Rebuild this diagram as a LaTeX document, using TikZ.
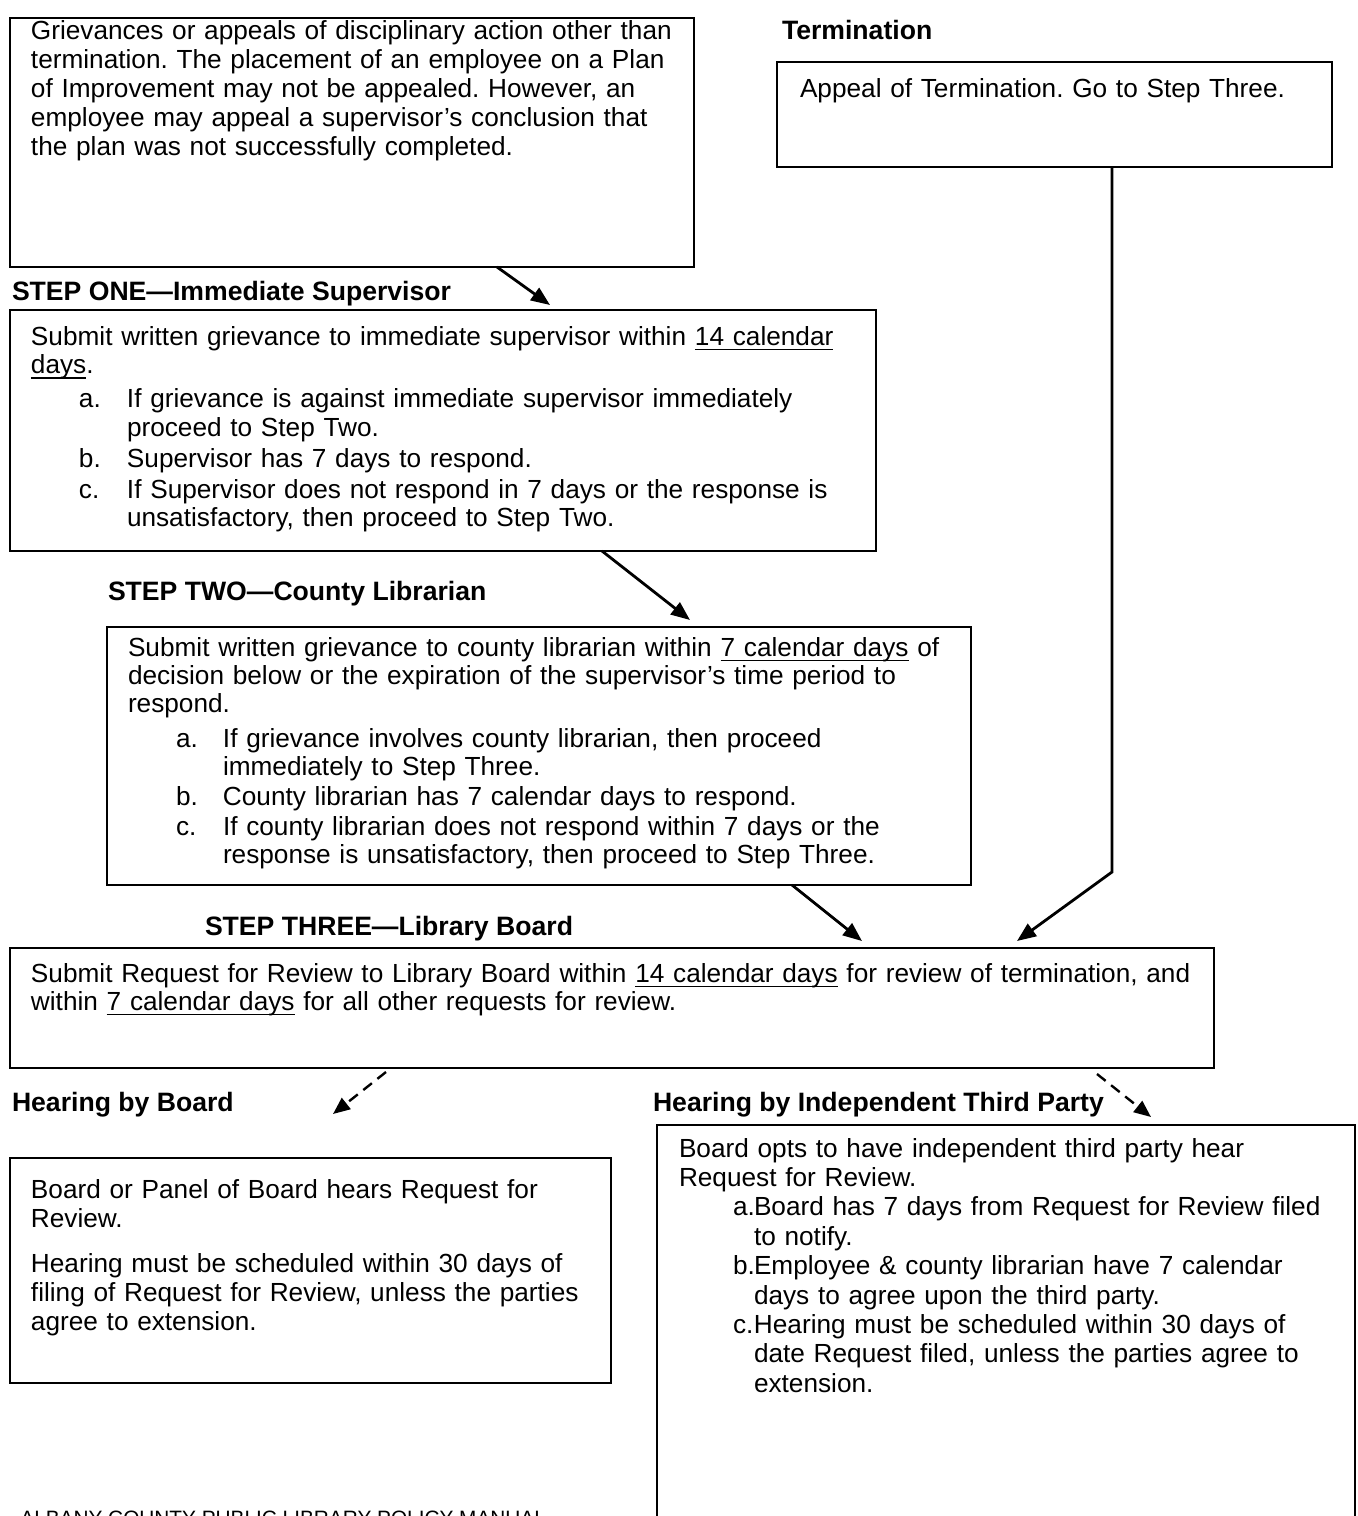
\documentclass[tikz,border=0pt]{standalone}
\usepackage{fontspec}
\setmainfont{Liberation Sans}
\usetikzlibrary{arrows.meta,calc}
\newsavebox\ulbox
\newcommand\myul[1]{\leavevmode\sbox\ulbox{#1}\rlap{\rule[-2.6pt]{\wd\ulbox}{0.65pt}}\usebox\ulbox}
\begin{document}
\frenchspacing
\begin{tikzpicture}[x=0.5pt,y=-0.5pt,
  box/.style={draw, line width=0.8pt, inner sep=0pt, outer sep=0pt, anchor=north west},
  txt/.style={anchor=base west, inner sep=0pt, outer sep=0pt, align=left, text width=#1},
  head/.style={anchor=base west, inner sep=0pt, outer sep=0pt, font=\fontsize{13.3}{15}\selectfont\bfseries},
  flow/.style={line width=1.4pt, -{Triangle[length=9.5pt,width=7.5pt]}},
  opt/.style={line width=1.2pt, dash pattern=on 5.5pt off 3.5pt, -{Triangle[length=8.5pt,width=7pt]}},
]
\useasboundingbox (0,0) rectangle (1358,1516);
\clip (0,0) rectangle (1358,1516);

% boxes
\node[box, minimum width=342pt, minimum height=124.5pt] (b1) at (10,18) {};
\node[box, minimum width=277.5pt, minimum height=52.5pt] (b2) at (777,62) {};
\node[box, minimum width=433pt, minimum height=120.5pt] (b3) at (10,310) {};
\node[box, minimum width=432pt, minimum height=129pt] (b4) at (107,627) {};
\node[box, minimum width=602pt, minimum height=60pt] (b5) at (10,948) {};
\node[box, minimum width=300.5pt, minimum height=112.5pt] (b6) at (10,1158) {};
\node[box, minimum width=349pt, minimum height=210pt] (b7) at (657,1125) {};

% headings
\node[head] (h0) at (782,39) {Termination};
\node[head] (h1) at (12,300) {STEP ONE—Immediate Supervisor};
\node[head] (h2) at (108,600) {STEP TWO—County Librarian};
\node[head] (h3) at (205,935) {STEP THREE—Library Board};
\node[head] (h4) at (12,1111) {Hearing by Board};
\node[head] (h5) at (653,1111) {Hearing by Independent Third Party};

% box texts
\node[txt=360pt, font=\fontsize{13.1}{14.5}\selectfont] (t1) at (31,39) {Grievances or appeals of disciplinary action other than\\
termination. The placement of an employee on a Plan\\
of Improvement may not be appealed. However, an\\
employee may appeal a supervisor’s conclusion that\\
the plan was not successfully completed.};

\node[txt=270pt, font=\fontsize{13.1}{14.5}\selectfont] (t2) at (800,97) {Appeal of Termination. Go to Step Three.};

\node[txt=440pt, font=\fontsize{13.1}{14.25}\selectfont] (t3) at (31,345) {Submit written grievance to immediate supervisor within \myul{14 calendar}\\
\myul{days}.\\[2.75pt]
\hspace*{24pt}\makebox[24pt][l]{a.}If grievance is against immediate supervisor immediately\\
\hspace*{48pt}proceed to Step Two.\\[1.25pt]
\hspace*{24pt}\makebox[24pt][l]{b.}Supervisor has 7 days to respond.\\[1.25pt]
\hspace*{24pt}\makebox[24pt][l]{c.}If Supervisor does not respond in 7 days or the response is\\
\hspace*{48pt}unsatisfactory, then proceed to Step Two.};

\node[txt=440pt, font=\fontsize{13.1}{14}\selectfont] (t4) at (128,656) {Submit written grievance to county librarian within \myul{7 calendar days} of\\
decision below or the expiration of the supervisor’s time period to\\
respond.\\[3.5pt]
\hspace*{24pt}\makebox[23.5pt][l]{a.}If grievance involves county librarian, then proceed\\
\hspace*{47.5pt}immediately to Step Three.\\[1pt]
\hspace*{24pt}\makebox[23.5pt][l]{b.}County librarian has 7 calendar days to respond.\\[1pt]
\hspace*{24pt}\makebox[23.5pt][l]{c.}If county librarian does not respond within 7 days or the\\
\hspace*{47.5pt}response is unsatisfactory, then proceed to Step Three.};

\node[txt=620pt, font=\fontsize{13.1}{14}\selectfont] (t5) at (31,982) {Submit Request for Review to Library Board within \myul{14 calendar days} for review of termination, and\\
within \myul{7 calendar days} for all other requests for review.};

\node[txt=310pt, font=\fontsize{13.1}{14.5}\selectfont] (t6) at (31,1198) {Board or Panel of Board hears Request for\\
Review.\\[8pt]
Hearing must be scheduled within 30 days of\\
filing of Request for Review, unless the parties\\
agree to extension.};

\node[txt=345pt, font=\fontsize{13.1}{14.7}\selectfont] (t7) at (679,1157) {Board opts to have independent third party hear\\
Request for Review.\\
\hspace*{27pt}\makebox[10.5pt][l]{a.}Board has 7 days from Request for Review filed\\
\hspace*{37.5pt}to notify.\\
\hspace*{27pt}\makebox[10.5pt][l]{b.}Employee \& county librarian have 7 calendar\\
\hspace*{37.5pt}days to agree upon the third party.\\
\hspace*{27pt}\makebox[10.5pt][l]{c.}Hearing must be scheduled within 30 days of\\
\hspace*{37.5pt}date Request filed, unless the parties agree to\\
\hspace*{37.5pt}extension.};

\node[anchor=base west, inner sep=0pt, font=\fontsize{10.4}{12}\selectfont] (foot) at (20,1525) {ALBANY COUNTY PUBLIC LIBRARY POLICY MANUAL};

% connector end points
\coordinate (e1) at (550,305);
\coordinate (e2) at (690,620);
\coordinate (e3) at (862,941);
\coordinate (k1) at (1112,872);
\coordinate (e4) at (1017,941);
\coordinate (d1) at (333,1114);
\coordinate (d2) at (1151,1117);

% connectors
\draw[flow] ($(b1.south west)+(487,0)$) -- (e1);
\draw[flow] ($(b3.south west)+(592,0)$) -- (e2);
\draw[flow] ($(b4.south west)+(685,0)$) -- (e3);
\draw[flow, line join=miter] (b2.south -| k1) -- (k1) -- (e4);
\draw[opt] ($(b5.south west)+(376,4)$) -- (d1);
\draw[opt] ($(b5.south west)+(1087,6)$) -- (d2);
\end{tikzpicture}
\end{document}
